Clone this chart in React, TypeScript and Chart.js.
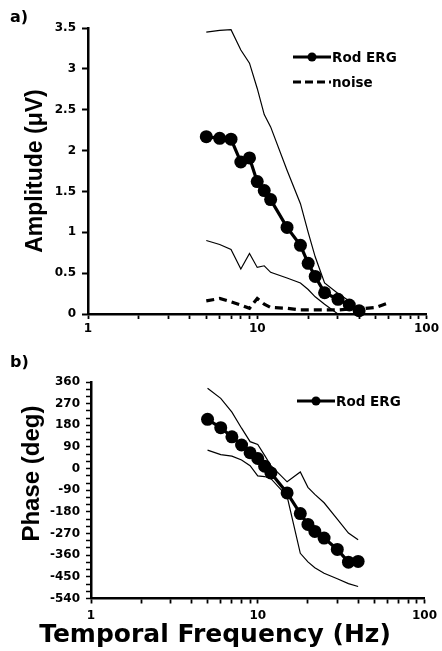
import React, { useEffect, useRef } from 'react';
import { Chart, registerables } from 'chart.js';

Chart.register(...registerables);

// ---------- data ----------
const freqs = [5, 6, 7, 8, 9, 10, 11, 12, 15, 18, 20, 22, 25, 30, 35, 40];
const rodAmplitude = [2.17, 2.15, 2.14, 1.86, 1.91, 1.62, 1.51, 1.4, 1.06, 0.84, 0.62, 0.46, 0.26, 0.18, 0.11, 0.04];
const amplitudeUpper = [3.45, 3.47, 3.48, 3.23, 3.07, 2.76, 2.44, 2.29, 1.76, 1.35, 1.0, 0.7, 0.38, 0.25, 0.16, 0.05];
const amplitudeLower = [0.9, 0.85, 0.79, 0.55, 0.74, 0.57, 0.59, 0.51, 0.44, 0.38, 0.3, 0.21, 0.12, 0.0, null, null];
const noiseFreqs = [5, 6, 7, 8, 9, 10, 11, 12, 15, 18, 20, 22, 25, 30, 35, 40, 50, 60];
const noiseAmplitude = [0.16, 0.19, 0.15, 0.11, 0.07, 0.19, 0.12, 0.08, 0.07, 0.05, 0.05, 0.05, 0.05, 0.05, 0.06, 0.06, 0.08, 0.14];
const rodPhase = [205, 170, 132, 98, 66, 42, 10, -18, -101, -187, -232, -261, -289, -336, -389, -386];
const phaseUpper = [334, 292, 235, 168, 112, 100, 55, 12, -55, -14, -78, -107, -142, -210, -268, -296];
const phaseLower = [77, 58, 52, 36, 12, -30, -33, -42, -115, -352, -388, -412, -435, -458, -478, -490];
const xTickValues = [1, 2, 3, 4, 5, 6, 7, 8, 9, 10, 20, 30, 40, 50, 60, 70, 80, 90, 100];
const xTickLabels = [1, 10, 100];
const ampTicks = { min: 0, max: 3.5, step: 0.5 };
const phaseTicks = { min: -540, max: 360, step: 30, labelEvery: 90 };

const H_FONT = "'DejaVu Sans', sans-serif";
const V_FONT = "'Liberation Sans', Arial, sans-serif";

const pts = (xs: number[], ys: (number | null)[]) => xs.map((x, i) => ({ x, y: ys[i] }));

function xAxis(height: number, labelPad: number) {
  return {
    type: 'logarithmic',
    min: 1,
    max: 100,
    border: { display: true, color: '#000', width: 2.5 },
    grid: { display: true, drawOnChartArea: false, drawTicks: true, tickLength: 5, color: '#000', tickColor: '#000', tickWidth: 1.8 },
    ticks: {
      autoSkip: false,
      maxRotation: 0,
      padding: labelPad,
      color: '#000',
      font: { family: H_FONT, size: 12, weight: 'bold' },
      callback: (v: any) => {
        const n = Number(v);
        return xTickLabels.some((t) => Math.abs(t - n) < 1e-6) ? String(n) : '';
      },
    },
    afterBuildTicks: (s: any) => {
      s.ticks = xTickValues.map((v) => ({ value: v, major: xTickLabels.includes(v) }));
    },
    afterFit: (s: any) => {
      s.height = height;
    },
  };
}

function baseDataset(label: string, data: any[], extra: any) {
  return {
    label,
    data,
    showLine: true,
    borderColor: '#000',
    backgroundColor: '#000',
    pointRadius: 0,
    pointHoverRadius: 0,
    spanGaps: false,
    ...extra,
  };
}

function amplitudeConfig(): any {
  return {
    type: 'scatter',
    data: {
      datasets: [
        baseDataset('Rod ERG', pts(freqs, rodAmplitude), {
          borderWidth: 3.2,
          pointRadius: 6.5,
          pointBorderWidth: 0,
          pointBackgroundColor: '#000',
          clip: false,
        }),
        baseDataset('noise', pts(noiseFreqs, noiseAmplitude), { borderWidth: 3.2, borderDash: [8, 5] }),
        baseDataset('upper', pts(freqs, amplitudeUpper), { borderWidth: 1.2 }),
        baseDataset('lower', pts(freqs, amplitudeLower), { borderWidth: 1.2 }),
      ],
    },
    options: {
      responsive: false,
      animation: false,
      events: [],
      layout: { padding: { top: 28, right: 15, bottom: 0, left: 0 } },
      plugins: { legend: { display: false }, tooltip: { enabled: false }, title: { display: false } },
      scales: {
        x: xAxis(26, 3),
        y: {
          type: 'linear',
          min: ampTicks.min,
          max: ampTicks.max,
          border: { display: true, color: '#000', width: 2.5 },
          grid: { display: true, drawOnChartArea: false, drawTicks: true, tickLength: 6, color: '#000', tickColor: '#000', tickWidth: 2 },
          ticks: {
            stepSize: ampTicks.step,
            autoSkip: false,
            padding: 6,
            color: '#000',
            font: { family: H_FONT, size: 12, weight: 'bold' },
            callback: (v: any) => String(Number(v)),
          },
          title: {
            display: true,
            text: 'Amplitude (\u03bcV)',
            color: '#000',
            font: { family: V_FONT, size: 23, weight: 'bold' },
            padding: { top: 22, bottom: 0 },
          },
          afterFit: (s: any) => {
            s.width = 88;
          },
        },
      },
    },
  };
}

function phaseConfig(): any {
  return {
    type: 'scatter',
    data: {
      datasets: [
        baseDataset('Rod ERG', pts(freqs, rodPhase), {
          borderWidth: 3.2,
          pointRadius: 6.5,
          pointBorderWidth: 0,
          pointBackgroundColor: '#000',
          clip: false,
        }),
        baseDataset('upper', pts(freqs, phaseUpper), { borderWidth: 1.2 }),
        baseDataset('lower', pts(freqs, phaseLower), { borderWidth: 1.2 }),
      ],
    },
    options: {
      responsive: false,
      animation: false,
      events: [],
      layout: { padding: { top: 42, right: 12, bottom: 0, left: 0 } },
      plugins: {
        legend: { display: false },
        tooltip: { enabled: false },
        title: {
          display: true,
          position: 'bottom',
          text: 'Temporal Frequency (Hz)',
          color: '#000',
          font: { family: H_FONT, size: 25, weight: 'bold' },
          padding: { top: 0, bottom: 1 },
        },
      },
      scales: {
        x: xAxis(21.5, 5),
        y: {
          type: 'linear',
          min: phaseTicks.min,
          max: phaseTicks.max,
          border: { display: true, color: '#000', width: 2.5 },
          grid: { display: true, drawOnChartArea: false, drawTicks: true, tickLength: 5, color: '#000', tickColor: '#000', tickWidth: 1.5 },
          ticks: {
            stepSize: phaseTicks.step,
            autoSkip: false,
            padding: 6,
            color: '#000',
            font: { family: H_FONT, size: 12, weight: 'bold' },
            callback: (v: any) => (Number(v) % phaseTicks.labelEvery === 0 ? String(v) : ''),
          },
          title: {
            display: true,
            text: '\u00a0\u00a0\u00a0\u00a0\u00a0Phase (deg)',
            color: '#000',
            font: { family: V_FONT, size: 24, weight: 'bold' },
            padding: { top: 17.6, bottom: 0 },
          },
          afterFit: (s: any) => {
            s.width = 91;
          },
        },
      },
    },
  };
}

function ChartCanvas({ top, height, make }: { top: number; height: number; make: () => any }) {
  const ref = useRef<HTMLCanvasElement | null>(null);
  useEffect(() => {
    if (!ref.current) return;
    const chart = new Chart(ref.current, make());
    return () => chart.destroy();
  }, []);
  return (
    <canvas
      ref={ref}
      width={442}
      height={height}
      style={{ position: 'absolute', left: 0, top, width: 442, height, display: 'block' }}
    />
  );
}

function LegendItem({ x, y, label, dashed, dot }: { x: number; y: number; label: string; dashed?: boolean; dot?: boolean; }) {
  const w = 38;
  return (
    <div style={{ position: 'absolute', left: x, top: y - 10, height: 20, display: 'flex', alignItems: 'center' }}>
      <svg width={w} height={20} style={{ display: 'block' }}>
        <line x1={0} y1={10} x2={w} y2={10} stroke="#000" strokeWidth={3.2} strokeDasharray={dashed ? '8 4' : undefined} />
        {dot && <circle cx={w / 2} cy={10} r={4.5} fill="#000" />}
      </svg>
      <span style={{ font: `bold 13.5px ${H_FONT}`, color: '#000', marginLeft: 1, whiteSpace: 'nowrap' }}>{label}</span>
    </div>
  );
}

export default function App() {
  return (
    <div style={{ position: 'absolute', left: 0, top: 0, width: 442, height: 651, background: '#fff', overflow: 'hidden' }}>
      <ChartCanvas top={0} height={340} make={amplitudeConfig} />
      <ChartCanvas top={340} height={311} make={phaseConfig} />
      <div style={{ position: 'absolute', left: 10, top: 7, font: `bold 16px ${H_FONT}`, color: '#000' }}>a)</div>
      <div style={{ position: 'absolute', left: 10, top: 352, font: `bold 16px ${H_FONT}`, color: '#000' }}>b)</div>
      <LegendItem x={293} y={57} label="Rod ERG" dot />
      <LegendItem x={293} y={82} label="noise" dashed />
      <LegendItem x={297} y={401} label="Rod ERG" dot />
    </div>
  );
}
